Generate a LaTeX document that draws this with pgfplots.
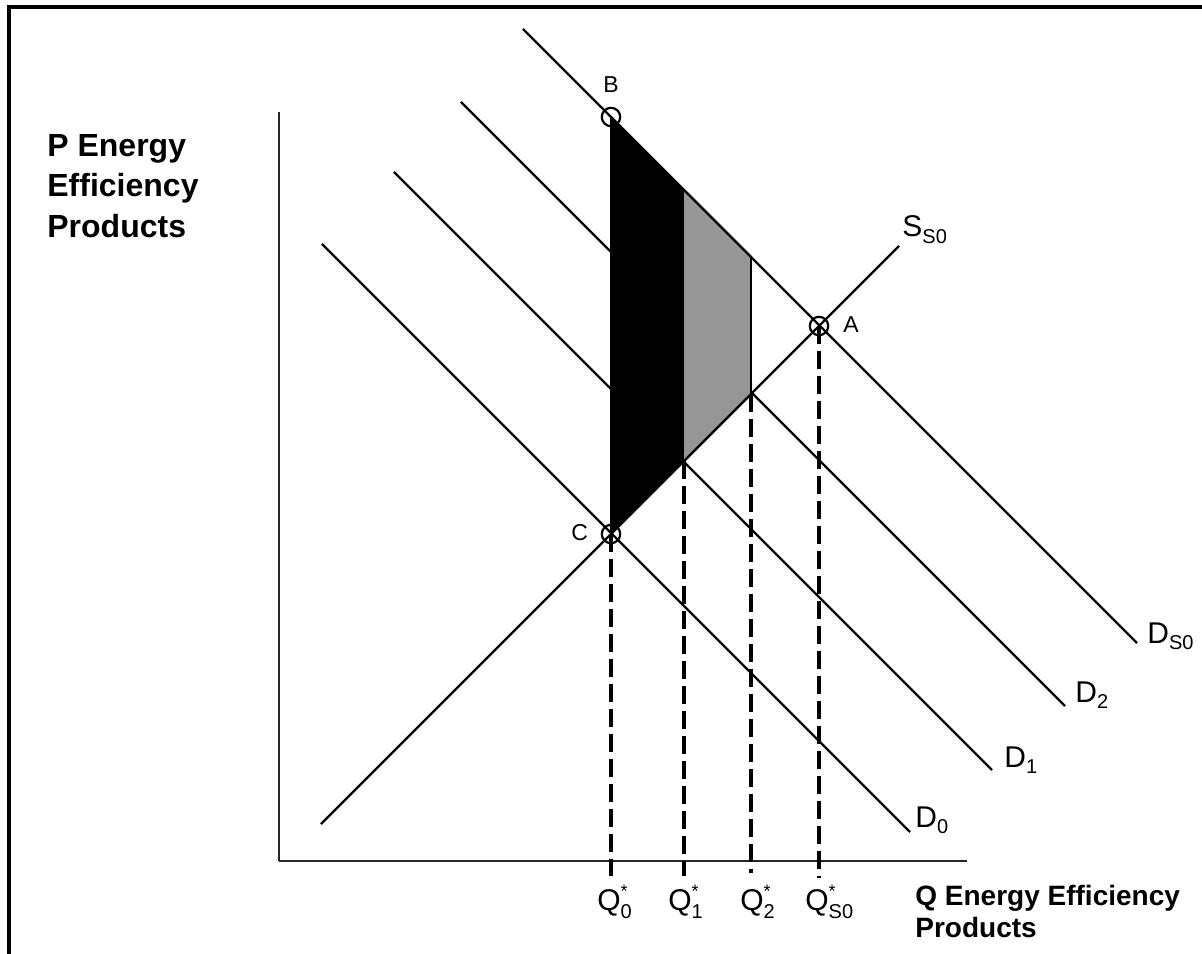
\documentclass[border=0pt]{standalone}
\usepackage{fontspec}
\setmainfont{Liberation Sans}
\usepackage{pgfplots}
\pgfplotsset{compat=1.18}

\definecolor{shade}{RGB}{150,150,150}
% label with subscript, and Q with star over subscript
\newcommand\lbl[2]{#1\raisebox{-3.2pt}{\fontsize{10}{10}\selectfont #2}}
\newcommand\qlbl[1]{Q\rlap{\raisebox{6.4pt}{\fontsize{9}{9}\selectfont *}}\raisebox{-4pt}{\fontsize{10}{10}\selectfont #1}}

\begin{document}
\begin{tikzpicture}
\begin{axis}[
    x=0.5pt, y=0.5pt,
    xmin=0, xmax=688,
    ymin=0, ymax=749,
    axis lines=left,
    axis line style={-, line width=1pt, black!85},
    xtick=\empty, ytick=\empty,
    clip=false,
    curve/.style={black, solid, mark=none, line width=1.1pt},
    guide/.style={black, mark=none, line width=1.6pt, dash pattern=on 9pt off 3.5pt},
  ]
% bounding box = original picture
\coordinate (bbsw) at (axis cs:-279,-92);
\coordinate (bbne) at (axis cs:923,861);

% frame (top and left)
\draw[line width=2pt] (axis cs:-269.5,-95) -- (axis cs:-269.5,854) -- (axis cs:930,854);

% supply
\addplot[curve] coordinates {(42,37) (620,615)};
% demand curves
\addplot[curve] coordinates {(43,617) (631,29)};   % D0
\addplot[curve] coordinates {(115,689) (713,91)};  % D1
\addplot[curve] coordinates {(182,759) (786,155)}; % D2
\addplot[curve] coordinates {(244,832) (858,218)}; % DS0

% shaded areas (over the demand curves)
\addplot[fill=black, draw=black, line width=1pt] coordinates {(332,327) (405,400) (405,671) (332,744) (332,327)};
\addplot[fill=shade, draw=none] coordinates {(405,400) (472,467) (472,604) (405,671) (405,400)};
\addplot[curve] coordinates {(405,400) (472,467)};
\addplot[curve] coordinates {(405,671) (472,604)};

% right edge of grey area
\addplot[curve] coordinates {(472,467) (472,604)};

% dashed guides
\addplot[guide] coordinates {(332,327) (332,-15)};
\addplot[guide] coordinates {(405,400) (405,-15)};
\addplot[guide] coordinates {(472,467) (472,-12)};
\addplot[guide] coordinates {(540,535) (540,-17)};

% points A, B, C
\addplot[only marks, mark=o, mark size=4.6pt, mark options={black, line width=1.1pt}]
  coordinates {(540,535) (332,744) (332,327)};

% point labels
\node[anchor=base, inner sep=0, font=\fontsize{11.5}{13}\selectfont] at (axis cs:332,768) {B};
\node[anchor=base west, inner sep=0, font=\fontsize{11.5}{13}\selectfont] at (axis cs:564,528) {A};
\node[anchor=base west, inner sep=0, font=\fontsize{11.5}{13}\selectfont] at (axis cs:292,320) {C};

% curve labels
\begin{scope}[every node/.style={anchor=base west, inner sep=0, font=\fontsize{15}{18}\selectfont}]
\node at (axis cs:623,624) {\lbl{S}{S0}};
\node at (axis cs:868,218) {\lbl{D}{S0}};
\node at (axis cs:796,159) {\lbl{D}{2}};
\node at (axis cs:725,94)  {\lbl{D}{1}};
\node at (axis cs:636,34)  {\lbl{D}{0}};
\node at (axis cs:318,-49) {\qlbl{0}};
\node at (axis cs:389,-49) {\qlbl{1}};
\node at (axis cs:461,-49) {\qlbl{2}};
\node at (axis cs:526,-49) {\qlbl{S0}};
\end{scope}

% axis titles
\begin{scope}[every node/.style={anchor=base west, inner sep=0, font=\bfseries\fontsize{16}{20}\selectfont}]
\node at (axis cs:-232,704) {P Energy};
\node at (axis cs:-232,664) {Efficiency};
\node at (axis cs:-232,623) {Products};
\end{scope}
\begin{scope}[every node/.style={anchor=base west, inner sep=0, font=\bfseries\fontsize{14}{16}\selectfont}]
\node at (axis cs:636,-44) {Q Energy Efficiency};
\node at (axis cs:636,-76) {Products};
\end{scope}
\end{axis}
\pgfresetboundingbox
\path[use as bounding box] (bbsw) rectangle (bbne);
\end{tikzpicture}
\end{document}
